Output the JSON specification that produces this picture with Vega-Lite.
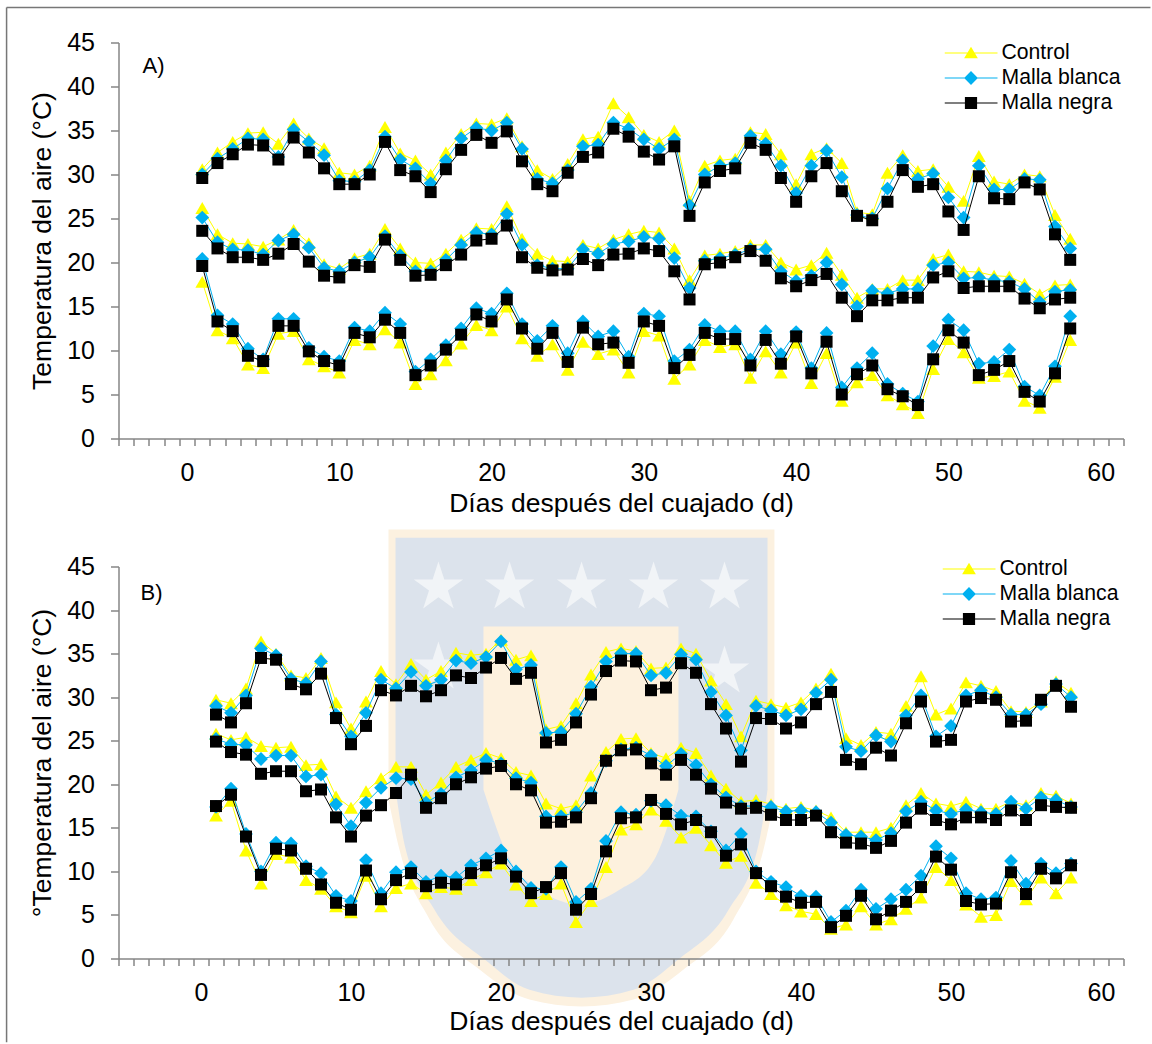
{"$schema":"https://vega.github.io/schema/vega-lite/v6.json","padding":{"left":5.5,"top":6.5,"right":0,"bottom":0},"background":"white","bounds":"flush","spacing":128,"resolve":{"scale":{"color":"independent","shape":"independent"},"legend":{"color":"independent","shape":"independent"}},"config":{"view":{"stroke":null},"font":"Liberation Sans","axis":{"grid":false,"domainColor":"#868686","tickColor":"#868686","domainWidth":1.5,"tickWidth":1.5,"labelColor":"black","titleColor":"black","labelFont":"Liberation Sans","titleFont":"Liberation Sans","labelFontSize":25,"titleFontSize":26.5,"titleFontWeight":"normal"},"legend":{"labelFont":"Liberation Sans","labelFontSize":21.2,"labelColor":"black"}},
"datasets":{
"A_control":[{"dia":1,"max":30.6,"med":26.2,"min":17.8},{"dia":2,"max":32.5,"med":23.2,"min":12.3},{"dia":3,"max":33.7,"med":22.2,"min":11.4},{"dia":4,"max":34.7,"med":22.1,"min":8.4},{"dia":5,"max":34.8,"med":21.8,"min":8},{"dia":6,"max":33.5,"med":22.6,"min":11.9},{"dia":7,"max":35.8,"med":23.7,"min":12.2},{"dia":8,"max":34.1,"med":22.2,"min":9},{"dia":9,"max":33,"med":19.8,"min":8.2},{"dia":10,"max":30.2,"med":19.3,"min":7.5},{"dia":11,"max":30,"med":20.5,"min":11.2},{"dia":12,"max":31,"med":21,"min":10.7},{"dia":13,"max":35.4,"med":23.8,"min":12.4},{"dia":14,"max":32.4,"med":21.6,"min":10.9},{"dia":15,"max":31.6,"med":20,"min":6.2},{"dia":16,"max":30,"med":19.9,"min":7.3},{"dia":17,"max":32.5,"med":21,"min":8.9},{"dia":18,"max":34.6,"med":22.6,"min":10.8},{"dia":19,"max":35.8,"med":23.9,"min":12.9},{"dia":20,"max":35.7,"med":23.8,"min":12.3},{"dia":21,"max":36.4,"med":26.4,"min":15},{"dia":22,"max":33.2,"med":22.7,"min":11.4},{"dia":23,"max":30.5,"med":21,"min":9.4},{"dia":24,"max":29.5,"med":20.2,"min":10.7},{"dia":25,"max":31.2,"med":20.1,"min":7.8},{"dia":26,"max":34,"med":22,"min":11},{"dia":27,"max":34.3,"med":21.6,"min":9.6},{"dia":28,"max":38.1,"med":22.6,"min":10.1},{"dia":29,"max":36.5,"med":23.2,"min":7.5},{"dia":30,"max":34.5,"med":23.6,"min":12.2},{"dia":31,"max":33.7,"med":23.4,"min":11.7},{"dia":32,"max":35,"med":21.6,"min":6.8},{"dia":33,"max":27,"med":18,"min":8.4},{"dia":34,"max":31,"med":20.8,"min":11.2},{"dia":35,"max":31.6,"med":21,"min":10.4},{"dia":36,"max":31.8,"med":21.3,"min":10.7},{"dia":37,"max":34.8,"med":22,"min":6.9},{"dia":38,"max":34.6,"med":22,"min":9.9},{"dia":39,"max":32.3,"med":20,"min":7.5},{"dia":40,"max":28.9,"med":19.2,"min":10.9},{"dia":41,"max":32.3,"med":19.7,"min":6.3},{"dia":42,"max":33,"med":21.1,"min":9.7},{"dia":43,"max":31.3,"med":18.6,"min":4.3},{"dia":44,"max":25.7,"med":16,"min":6.4},{"dia":45,"max":25.5,"med":17,"min":7.2},{"dia":46,"max":30.2,"med":17,"min":4.9},{"dia":47,"max":32.2,"med":18,"min":3.9},{"dia":48,"max":30.4,"med":18,"min":2.9},{"dia":49,"max":30.6,"med":20.4,"min":7.9},{"dia":50,"max":28.6,"med":20.9,"min":11.3},{"dia":51,"max":27,"med":19,"min":9.8},{"dia":52,"max":32.1,"med":18.9,"min":6.9},{"dia":53,"max":29.2,"med":18.5,"min":7.1},{"dia":54,"max":28.9,"med":18.4,"min":7.6},{"dia":55,"max":30,"med":17.6,"min":4.3},{"dia":56,"max":29.8,"med":16.4,"min":3.5},{"dia":57,"max":25.4,"med":17.4,"min":7},{"dia":58,"max":22.7,"med":17.5,"min":11.2}],
"A_blanca":[{"dia":1,"max":30,"med":25.1,"min":20.4},{"dia":2,"max":31.8,"med":22.3,"min":14},{"dia":3,"max":32.9,"med":21.5,"min":13},{"dia":4,"max":34.1,"med":21.4,"min":10.2},{"dia":5,"max":34,"med":20.9,"min":9},{"dia":6,"max":32,"med":22.5,"min":13.6},{"dia":7,"max":35.1,"med":23.2,"min":13.6},{"dia":8,"max":33.7,"med":21.7,"min":10.3},{"dia":9,"max":32.2,"med":19.4,"min":9.3},{"dia":10,"max":29.3,"med":19,"min":8.8},{"dia":11,"max":29.2,"med":20,"min":12.6},{"dia":12,"max":30.5,"med":20.6,"min":12.2},{"dia":13,"max":34.3,"med":23,"min":14.3},{"dia":14,"max":31.7,"med":20.8,"min":13},{"dia":15,"max":30.7,"med":19,"min":7.6},{"dia":16,"max":29,"med":19,"min":9},{"dia":17,"max":31.6,"med":20.3,"min":10.6},{"dia":18,"max":34.1,"med":22,"min":12.5},{"dia":19,"max":35.3,"med":23.4,"min":14.8},{"dia":20,"max":35,"med":23.2,"min":14.2},{"dia":21,"max":35.9,"med":25.5,"min":16.5},{"dia":22,"max":32.9,"med":22,"min":13},{"dia":23,"max":29.5,"med":19.7,"min":11.1},{"dia":24,"max":29,"med":19.3,"min":12.8},{"dia":25,"max":30.5,"med":19.3,"min":9.7},{"dia":26,"max":33.2,"med":21.5,"min":13.3},{"dia":27,"max":33.4,"med":21,"min":11.6},{"dia":28,"max":35.9,"med":22.1,"min":12.2},{"dia":29,"max":35.2,"med":22.4,"min":9.3},{"dia":30,"max":34,"med":22.9,"min":14.2},{"dia":31,"max":32.9,"med":22.7,"min":13.9},{"dia":32,"max":34,"med":20.5,"min":8.8},{"dia":33,"max":26.5,"med":17.1,"min":10.1},{"dia":34,"max":30,"med":20.2,"min":12.9},{"dia":35,"max":31,"med":20.5,"min":12.2},{"dia":36,"max":31.3,"med":20.9,"min":12.2},{"dia":37,"max":34.4,"med":21.5,"min":9},{"dia":38,"max":33.5,"med":21.5,"min":12.2},{"dia":39,"max":31,"med":19,"min":9.6},{"dia":40,"max":27.9,"med":17.9,"min":12.1},{"dia":41,"max":31,"med":18.5,"min":8},{"dia":42,"max":32.7,"med":20,"min":12},{"dia":43,"max":29.7,"med":17.5,"min":5.8},{"dia":44,"max":25.4,"med":15,"min":8},{"dia":45,"max":25,"med":16.8,"min":9.7},{"dia":46,"max":28.4,"med":16.5,"min":6.2},{"dia":47,"max":31.6,"med":17,"min":5.1},{"dia":48,"max":29.5,"med":17,"min":4.2},{"dia":49,"max":30.1,"med":19.7,"min":10.5},{"dia":50,"max":27.4,"med":20,"min":13.5},{"dia":51,"max":25.1,"med":18.2,"min":12.3},{"dia":52,"max":31,"med":18.3,"min":8.5},{"dia":53,"max":28.3,"med":18,"min":8.7},{"dia":54,"max":28.3,"med":17.8,"min":10.1},{"dia":55,"max":29.5,"med":17,"min":5.9},{"dia":56,"max":29.4,"med":15.5,"min":4.9},{"dia":57,"max":24.1,"med":16.7,"min":8.2},{"dia":58,"max":21.6,"med":16.9,"min":13.9}],
"A_negra":[{"dia":1,"max":29.6,"med":23.6,"min":19.6},{"dia":2,"max":31.3,"med":21.6,"min":13.3},{"dia":3,"max":32.3,"med":20.6,"min":12.2},{"dia":4,"max":33.4,"med":20.6,"min":9.4},{"dia":5,"max":33.3,"med":20.3,"min":8.8},{"dia":6,"max":31.7,"med":21,"min":12.8},{"dia":7,"max":34.2,"med":22.1,"min":12.8},{"dia":8,"max":32.5,"med":20.1,"min":9.9},{"dia":9,"max":30.7,"med":18.5,"min":8.8},{"dia":10,"max":28.9,"med":18.3,"min":8.3},{"dia":11,"max":28.9,"med":19.7,"min":12},{"dia":12,"max":30,"med":19.5,"min":11.5},{"dia":13,"max":33.7,"med":22.6,"min":13.5},{"dia":14,"max":30.5,"med":20.3,"min":12},{"dia":15,"max":29.8,"med":18.5,"min":7.2},{"dia":16,"max":28,"med":18.6,"min":8.3},{"dia":17,"max":30.6,"med":19.7,"min":10.1},{"dia":18,"max":32.8,"med":20.9,"min":11.8},{"dia":19,"max":34.5,"med":22.5,"min":14.1},{"dia":20,"max":33.6,"med":22.7,"min":13.3},{"dia":21,"max":34.9,"med":24.2,"min":15.8},{"dia":22,"max":31.5,"med":20.6,"min":12.5},{"dia":23,"max":28.9,"med":19.4,"min":10.2},{"dia":24,"max":28.1,"med":19.1,"min":12},{"dia":25,"max":30.2,"med":19.2,"min":8.7},{"dia":26,"max":32,"med":20.4,"min":12.6},{"dia":27,"max":32.5,"med":19.7,"min":10.7},{"dia":28,"max":35.2,"med":20.9,"min":10.9},{"dia":29,"max":34.3,"med":21,"min":8.6},{"dia":30,"max":32.6,"med":21.6,"min":13.3},{"dia":31,"max":31.7,"med":21.3,"min":12.8},{"dia":32,"max":33.2,"med":19,"min":8},{"dia":33,"max":25.3,"med":15.8,"min":9.5},{"dia":34,"max":29.1,"med":19.8,"min":12},{"dia":35,"max":30.4,"med":20,"min":11.3},{"dia":36,"max":30.7,"med":20.6,"min":11.3},{"dia":37,"max":33.6,"med":21.3,"min":8.3},{"dia":38,"max":32.8,"med":20.2,"min":11.2},{"dia":39,"max":29.6,"med":18.2,"min":8.5},{"dia":40,"max":26.9,"med":17.3,"min":11.6},{"dia":41,"max":29.8,"med":18,"min":7.4},{"dia":42,"max":31.3,"med":18.7,"min":11},{"dia":43,"max":28.1,"med":16,"min":5},{"dia":44,"max":25.3,"med":13.9,"min":7.3},{"dia":45,"max":24.8,"med":15.7,"min":8.3},{"dia":46,"max":26.9,"med":15.7,"min":5.6},{"dia":47,"max":30.5,"med":16,"min":4.8},{"dia":48,"max":28.6,"med":16,"min":3.8},{"dia":49,"max":28.9,"med":18.3,"min":9},{"dia":50,"max":25.8,"med":19,"min":12.3},{"dia":51,"max":23.7,"med":17.1,"min":10.9},{"dia":52,"max":29.8,"med":17.3,"min":7.2},{"dia":53,"max":27.3,"med":17.3,"min":7.8},{"dia":54,"max":27.2,"med":17.3,"min":8.8},{"dia":55,"max":29.1,"med":15.9,"min":5.3},{"dia":56,"max":28.3,"med":14.8,"min":4.2},{"dia":57,"max":23.2,"med":15.8,"min":7.4},{"dia":58,"max":20.3,"med":16,"min":12.5}],
"B_control":[{"dia":1,"max":29.7,"med":25.8,"min":16.4},{"dia":2,"max":29.3,"med":25.1,"min":18.1},{"dia":3,"max":31,"med":25.4,"min":12.4},{"dia":4,"max":36.4,"med":24.4,"min":8.6},{"dia":5,"max":35,"med":24.2,"min":12},{"dia":6,"max":32.5,"med":24.3,"min":11.6},{"dia":7,"max":32.2,"med":22.2,"min":9},{"dia":8,"max":34.5,"med":22.3,"min":8},{"dia":9,"max":29.4,"med":18.6,"min":6},{"dia":10,"max":26.4,"med":17.3,"min":5.3},{"dia":11,"max":29.5,"med":19.2,"min":9.5},{"dia":12,"max":33,"med":20.7,"min":6},{"dia":13,"max":31.5,"med":22,"min":8.1},{"dia":14,"max":33.8,"med":22,"min":8.6},{"dia":15,"max":32,"med":18.8,"min":7.5},{"dia":16,"max":33,"med":20.2,"min":8.2},{"dia":17,"max":35.1,"med":22,"min":8},{"dia":18,"max":34.8,"med":22.8,"min":9},{"dia":19,"max":35,"med":23.6,"min":9.9},{"dia":20,"max":36.6,"med":23,"min":10.9},{"dia":21,"max":34.3,"med":21.4,"min":8.5},{"dia":22,"max":34.8,"med":21,"min":6.6},{"dia":23,"max":26.3,"med":17.8,"min":7.4},{"dia":24,"max":26.7,"med":17.2,"min":8.6},{"dia":25,"max":29.3,"med":17.6,"min":4.2},{"dia":26,"max":32.6,"med":21,"min":6.6},{"dia":27,"max":35.2,"med":23.7,"min":10.5},{"dia":28,"max":35.6,"med":25.2,"min":14.8},{"dia":29,"max":35.3,"med":25.3,"min":15.4},{"dia":30,"max":33.3,"med":23.6,"min":17.1},{"dia":31,"max":33.4,"med":23,"min":15.8},{"dia":32,"max":35.6,"med":24.2,"min":13.9},{"dia":33,"max":35,"med":23.6,"min":15},{"dia":34,"max":31.9,"med":21,"min":13},{"dia":35,"max":29.2,"med":19.5,"min":11},{"dia":36,"max":25.5,"med":18,"min":11.8},{"dia":37,"max":29.6,"med":18.2,"min":8.7},{"dia":38,"max":29.2,"med":17.7,"min":7.4},{"dia":39,"max":28.8,"med":17.2,"min":6.1},{"dia":40,"max":29.4,"med":17.4,"min":5.4},{"dia":41,"max":31,"med":17,"min":5.1},{"dia":42,"max":32.7,"med":16.2,"min":3.4},{"dia":43,"max":25.3,"med":14.5,"min":3.9},{"dia":44,"max":24.5,"med":14.5,"min":6},{"dia":45,"max":26,"med":14.5,"min":3.9},{"dia":46,"max":25.8,"med":15,"min":4.5},{"dia":47,"max":29,"med":17.6,"min":5.7},{"dia":48,"max":32.4,"med":19,"min":7},{"dia":49,"max":28,"med":17.8,"min":10.5},{"dia":50,"max":28.7,"med":17.5,"min":9},{"dia":51,"max":31.7,"med":18,"min":6.2},{"dia":52,"max":31.3,"med":17.2,"min":4.8},{"dia":53,"max":30.7,"med":17.2,"min":5},{"dia":54,"max":28.4,"med":18,"min":8.9},{"dia":55,"max":28.3,"med":17.6,"min":6.8},{"dia":56,"max":29.5,"med":19,"min":9.3},{"dia":57,"max":31.8,"med":18.7,"min":7.5},{"dia":58,"max":30.5,"med":17.8,"min":9.3}],
"B_blanca":[{"dia":1,"max":29,"med":25.2,"min":17.4},{"dia":2,"max":28.2,"med":24.6,"min":19.5},{"dia":3,"max":30.2,"med":24.5,"min":14.3},{"dia":4,"max":35.6,"med":22.9,"min":10},{"dia":5,"max":34.8,"med":23.3,"min":13.3},{"dia":6,"max":32.1,"med":23.3,"min":13.2},{"dia":7,"max":31.6,"med":20.9,"min":10.6},{"dia":8,"max":34.1,"med":21.1,"min":9.8},{"dia":9,"max":28,"med":17.7,"min":7.2},{"dia":10,"max":25.5,"med":15.2,"min":6.6},{"dia":11,"max":28.2,"med":17.9,"min":11.3},{"dia":12,"max":32,"med":19.6,"min":7.5},{"dia":13,"max":31,"med":20.7,"min":9.9},{"dia":14,"max":32.9,"med":20.6,"min":10.5},{"dia":15,"max":31.3,"med":17.9,"min":8.8},{"dia":16,"max":32,"med":18.9,"min":9.5},{"dia":17,"max":34.2,"med":20.8,"min":9.3},{"dia":18,"max":33.9,"med":21.6,"min":10.7},{"dia":19,"max":34.6,"med":22.8,"min":11.5},{"dia":20,"max":36.4,"med":22.4,"min":12.4},{"dia":21,"max":33.2,"med":20.7,"min":10},{"dia":22,"max":33.7,"med":20.2,"min":8.1},{"dia":23,"max":25.9,"med":16.3,"min":8},{"dia":24,"max":26,"med":16.3,"min":10.5},{"dia":25,"max":28.1,"med":16.8,"min":6.5},{"dia":26,"max":31.2,"med":19,"min":8},{"dia":27,"max":34.1,"med":22.7,"min":13.5},{"dia":28,"max":35,"med":24,"min":16.8},{"dia":29,"max":35,"med":24.2,"min":16.5},{"dia":30,"max":32.5,"med":23.3,"min":18.1},{"dia":31,"max":32.8,"med":22.1,"min":17.6},{"dia":32,"max":34.9,"med":23.5,"min":16.4},{"dia":33,"max":34.3,"med":22.2,"min":16.3},{"dia":34,"max":30.6,"med":20,"min":14.6},{"dia":35,"max":27.9,"med":18.5,"min":12.4},{"dia":36,"max":23.9,"med":17.5,"min":14.3},{"dia":37,"max":29,"med":17.5,"min":10},{"dia":38,"max":28.5,"med":17.4,"min":8.8},{"dia":39,"max":27.9,"med":16.9,"min":8.2},{"dia":40,"max":28.6,"med":17,"min":7.2},{"dia":41,"max":30.5,"med":16.8,"min":7.1},{"dia":42,"max":32,"med":15.6,"min":4.2},{"dia":43,"max":24.3,"med":14.2,"min":5.5},{"dia":44,"max":23.8,"med":14,"min":7.9},{"dia":45,"max":25.6,"med":13.6,"min":5.7},{"dia":46,"max":24.9,"med":14.4,"min":6.8},{"dia":47,"max":27.9,"med":16.9,"min":7.9},{"dia":48,"max":30.2,"med":18,"min":9.5},{"dia":49,"max":25.5,"med":17,"min":12.9},{"dia":50,"max":26.7,"med":16.6,"min":11.5},{"dia":51,"max":30.2,"med":17.1,"min":7.5},{"dia":52,"max":30.8,"med":16.8,"min":6.8},{"dia":53,"max":30,"med":16.6,"min":7},{"dia":54,"max":28,"med":18,"min":11.2},{"dia":55,"max":28,"med":17.2,"min":8.6},{"dia":56,"max":29.2,"med":18.5,"min":10.9},{"dia":57,"max":31.5,"med":18.2,"min":9.8},{"dia":58,"max":30,"med":17.4,"min":10.9}],
"B_negra":[{"dia":1,"max":28,"med":24.9,"min":17.5},{"dia":2,"max":27.1,"med":23.7,"min":18.8},{"dia":3,"max":29.3,"med":23.4,"min":14},{"dia":4,"max":34.5,"med":21.2,"min":9.6},{"dia":5,"max":34.3,"med":21.5,"min":12.6},{"dia":6,"max":31.5,"med":21.5,"min":12.4},{"dia":7,"max":30.9,"med":19.2,"min":10.3},{"dia":8,"max":32.7,"med":19.4,"min":8.5},{"dia":9,"max":27.6,"med":16.2,"min":6.4},{"dia":10,"max":24.6,"med":14,"min":5.6},{"dia":11,"max":26.7,"med":16.4,"min":10.1},{"dia":12,"max":30.8,"med":17.6,"min":6.8},{"dia":13,"max":30.2,"med":19,"min":9},{"dia":14,"max":31.3,"med":21.1,"min":9.8},{"dia":15,"max":30.1,"med":17.3,"min":8.3},{"dia":16,"max":30.8,"med":18.4,"min":8.7},{"dia":17,"max":32.5,"med":20,"min":8.5},{"dia":18,"max":32.2,"med":20.8,"min":9.8},{"dia":19,"max":33.4,"med":21.8,"min":10.7},{"dia":20,"max":34.5,"med":22.1,"min":11.5},{"dia":21,"max":32.1,"med":20,"min":9.4},{"dia":22,"max":32.8,"med":19.3,"min":7.5},{"dia":23,"max":24.8,"med":15.6,"min":8.2},{"dia":24,"max":25.1,"med":15.7,"min":9.8},{"dia":25,"max":27.1,"med":16.2,"min":5.6},{"dia":26,"max":30.3,"med":18.4,"min":7.4},{"dia":27,"max":33,"med":22.7,"min":12.3},{"dia":28,"max":34.2,"med":23.9,"min":16.1},{"dia":29,"max":34.1,"med":24,"min":16.2},{"dia":30,"max":30.8,"med":22.4,"min":18.2},{"dia":31,"max":31.1,"med":21.1,"min":16.6},{"dia":32,"max":33.9,"med":22.8,"min":15.4},{"dia":33,"max":32.8,"med":21.1,"min":15.9},{"dia":34,"max":29.2,"med":19.5,"min":14.5},{"dia":35,"max":26.4,"med":17.9,"min":11.8},{"dia":36,"max":22.6,"med":17.2,"min":13.1},{"dia":37,"max":27.6,"med":17.3,"min":9.8},{"dia":38,"max":27.5,"med":16.5,"min":8.3},{"dia":39,"max":26.4,"med":15.9,"min":7.1},{"dia":40,"max":27.1,"med":15.9,"min":6.4},{"dia":41,"max":29.2,"med":16.4,"min":6.5},{"dia":42,"max":30.6,"med":14.5,"min":3.6},{"dia":43,"max":22.8,"med":13.3,"min":4.9},{"dia":44,"max":22.3,"med":13.2,"min":7.2},{"dia":45,"max":24.2,"med":12.7,"min":4.5},{"dia":46,"max":23.3,"med":13.5,"min":5.5},{"dia":47,"max":27,"med":15.6,"min":6.5},{"dia":48,"max":29.5,"med":17.2,"min":8.2},{"dia":49,"max":24.9,"med":15.9,"min":11.7},{"dia":50,"max":25.1,"med":15.4,"min":10.2},{"dia":51,"max":29.5,"med":16.2,"min":6.6},{"dia":52,"max":29.9,"med":16.2,"min":6.2},{"dia":53,"max":29.7,"med":15.9,"min":6.3},{"dia":54,"max":27.2,"med":17,"min":9.9},{"dia":55,"max":27.3,"med":15.9,"min":7.4},{"dia":56,"max":29.7,"med":17.6,"min":10.3},{"dia":57,"max":31.3,"med":17.4,"min":9.2},{"dia":58,"max":28.9,"med":17.3,"min":10.7}],
"leyenda":[{"trat":"Control"},{"trat":"Malla blanca"},{"trat":"Malla negra"}]
},
"vconcat":[
{"width":1005,"height":396,
"encoding":{"x":{"field":"dia","type":"quantitative","title":"Días después del cuajado (d)","scale":{"domain":[-4.5,61.5],"nice":false,"zero":false},"axis":{"zindex":1,"values":[-4.5,-3.5,-2.5,-1.5,-0.5,0,0.5,1.5,2.5,3.5,4.5,5.5,6.5,7.5,8.5,9.5,10,10.5,11.5,12.5,13.5,14.5,15.5,16.5,17.5,18.5,19.5,20,20.5,21.5,22.5,23.5,24.5,25.5,26.5,27.5,28.5,29.5,30,30.5,31.5,32.5,33.5,34.5,35.5,36.5,37.5,38.5,39.5,40,40.5,41.5,42.5,43.5,44.5,45.5,46.5,47.5,48.5,49.5,50,50.5,51.5,52.5,53.5,54.5,55.5,56.5,57.5,58.5,59.5,60,60.5,61.5],"labelExpr":"datum.value % 10 == 0 ? datum.label : ''","labelOverlap":false,"labelFlush":false,"tickSize":7,"labelPadding":15,"titlePadding":5,"tickOpacity":{"condition":{"test":"datum.value % 1 == 0","value":0},"value":1}}},"y":{"field":"temp","type":"quantitative","title":"Temperatura del aire (°C)","scale":{"domain":[0,45],"nice":false},"axis":{"zindex":1,"values":[0,5,10,15,20,25,30,35,40,45],"tickSize":8,"labelPadding":16,"titlePadding":10}}},
"layer":[
{"data":{"values":[{"dia":-11.85,"temp":48.98,"temp2":-68.6}]},"mark":{"type":"rule","color":"#777777","strokeWidth":1.5},"encoding":{"y2":{"field":"temp2"}}},
{"data":{"values":[{"dia":-11.85,"dia2":63.27,"temp":48.98}]},"mark":{"type":"rule","color":"#777777","strokeWidth":1.5},"encoding":{"x2":{"field":"dia2"}}},
{"data":{"name":"A_control"},"transform":[{"fold":["max","med","min"],"as":["nivel","temp"]}],"layer":[{"mark":{"type":"line","color":"#FFFF00","strokeWidth":1},"encoding":{"detail":{"field":"nivel"}}},{"mark":{"type":"point","shape":"triangle-up","filled":true,"color":"#FFFF00","size":190,"opacity":1}}]},
{"data":{"name":"A_blanca"},"transform":[{"fold":["max","med","min"],"as":["nivel","temp"]}],"layer":[{"mark":{"type":"line","color":"#00B0F0","strokeWidth":1},"encoding":{"detail":{"field":"nivel"}}},{"mark":{"type":"point","shape":"diamond","filled":true,"color":"#00B0F0","size":190,"opacity":1}}]},
{"data":{"name":"A_negra"},"transform":[{"fold":["max","med","min"],"as":["nivel","temp"]}],"layer":[{"mark":{"type":"line","color":"#000000","strokeWidth":1},"encoding":{"detail":{"field":"nivel"}}},{"mark":{"type":"point","shape":"square","filled":true,"color":"#000000","size":144,"opacity":1}}]},
{"data":{"values":[{"dia":-2.2,"temp":42.3,"etiqueta":"A)"}]},"mark":{"type":"text","fontSize":22,"font":"Liberation Sans","color":"black"},"encoding":{"text":{"field":"etiqueta"}}},
{"data":{"name":"leyenda"},"mark":{"type":"point","filled":true,"opacity":0},"encoding":{"color":{"field":"trat","type":"nominal","scale":{"domain":["Control","Malla blanca","Malla negra"],"range":["#FFFF00","#00B0F0","#000000"]},"legend":{"title":null,"orient":"none","legendX":826,"legendY":-2,"padding":0,"symbolSize":2809,"clipHeight":25,"rowPadding":0,"labelOffset":4,"symbolOpacity":1,"symbolStrokeWidth":0}},"shape":{"field":"trat","type":"nominal","scale":{"domain":["Control","Malla blanca","Malla negra"],"range":["M-1,-0.02H1V0.02H-1Z M0,-0.24L0.26,0.2H-0.26Z","M-1,-0.02H1V0.02H-1Z M0,-0.26L0.26,0L0,0.26L-0.26,0Z","M-1,-0.02H1V0.02H-1Z M-0.23,-0.23H0.23V0.23H-0.23Z"]},"legend":{"title":null,"orient":"none","legendX":826,"legendY":-2,"padding":0,"symbolSize":2809,"clipHeight":25,"rowPadding":0,"labelOffset":4,"symbolOpacity":1,"symbolStrokeWidth":0}}}}
]},
{"width":1005,"height":392,
"encoding":{"x":{"field":"dia","type":"quantitative","title":"Días después del cuajado (d)","scale":{"domain":[-5.5,61.5],"nice":false,"zero":false},"axis":{"zindex":1,"values":[-5.5,-4.5,-3.5,-2.5,-1.5,-0.5,0,0.5,1.5,2.5,3.5,4.5,5.5,6.5,7.5,8.5,9.5,10,10.5,11.5,12.5,13.5,14.5,15.5,16.5,17.5,18.5,19.5,20,20.5,21.5,22.5,23.5,24.5,25.5,26.5,27.5,28.5,29.5,30,30.5,31.5,32.5,33.5,34.5,35.5,36.5,37.5,38.5,39.5,40,40.5,41.5,42.5,43.5,44.5,45.5,46.5,47.5,48.5,49.5,50,50.5,51.5,52.5,53.5,54.5,55.5,56.5,57.5,58.5,59.5,60,60.5,61.5],"labelExpr":"datum.value % 10 == 0 ? datum.label : ''","labelOverlap":false,"labelFlush":false,"tickSize":7,"labelPadding":15,"titlePadding":3,"tickOpacity":{"condition":{"test":"datum.value % 1 == 0","value":0},"value":1}}},"y":{"field":"temp","type":"quantitative","title":"°Temperatura del aire (°C)","scale":{"domain":[0,45],"nice":false},"axis":{"zindex":1,"values":[0,5,10,15,20,25,30,35,40,45],"tickSize":8,"labelPadding":16,"titlePadding":10}}},
"layer":[
{"data":{"values":[{"dia":12.5,"temp":49.25,"temp2":18.25},{"dia":13.23,"temp":49.25,"temp2":12.5},{"dia":15.23,"temp":49.25,"temp2":4.5},{"dia":18.57,"temp":49.25,"temp2":-1.26},{"dia":21.9,"temp":49.25,"temp2":-4.7},{"dia":25.37,"temp":49.25,"temp2":-5.5},{"dia":28.83,"temp":49.25,"temp2":-4.7},{"dia":32.17,"temp":49.25,"temp2":-1.26},{"dia":35.5,"temp":49.25,"temp2":4.5},{"dia":37.5,"temp":49.25,"temp2":12.5},{"dia":38.23,"temp":49.25,"temp2":18.25}]},"mark":{"type":"area","color":"#FCF1E0","opacity":1,"interpolate":"monotone"},"encoding":{"y2":{"field":"temp2"}}},
{"data":{"values":[{"dia":12.97,"temp":48.3,"temp2":19.4},{"dia":13.57,"temp":48.3,"temp2":13.1},{"dia":15.57,"temp":48.3,"temp2":5.6},{"dia":18.9,"temp":48.3,"temp2":-0.1},{"dia":21.9,"temp":48.3,"temp2":-3.6},{"dia":25.37,"temp":48.3,"temp2":-4.5},{"dia":28.83,"temp":48.3,"temp2":-3.6},{"dia":31.83,"temp":48.3,"temp2":-0.1},{"dia":35.17,"temp":48.3,"temp2":5.6},{"dia":37.17,"temp":48.3,"temp2":13.1},{"dia":37.77,"temp":48.3,"temp2":19.4}]},"mark":{"type":"area","color":"#DCE3EC","opacity":1,"interpolate":"monotone"},"encoding":{"y2":{"field":"temp2"}}},
{"data":{"values":[{"dia":18.83,"temp":38.1,"temp2":19.4},{"dia":20.57,"temp":38.1,"temp2":11.4},{"dia":22.57,"temp":38.1,"temp2":7.9},{"dia":25.3,"temp":38.1,"temp2":6.2},{"dia":27.9,"temp":38.1,"temp2":7.9},{"dia":30.23,"temp":38.1,"temp2":11.4},{"dia":31.83,"temp":38.1,"temp2":19.4}]},"mark":{"type":"area","color":"#FDF1DE","opacity":1,"interpolate":"monotone"},"encoding":{"y2":{"field":"temp2"}}},
{"data":{"values":[{"dia":15.83,"temp":42.6},{"dia":20.57,"temp":42.6},{"dia":25.37,"temp":42.6},{"dia":30.17,"temp":42.6},{"dia":34.9,"temp":42.6},{"dia":15.83,"temp":33.4},{"dia":34.9,"temp":32.95}]},"mark":{"type":"point","filled":true,"color":"#F1F4F7","opacity":1,"size":2700,"shape":"M0,-1L0.225,-0.309L0.951,-0.309L0.363,0.118L0.588,0.809L0,0.382L-0.588,0.809L-0.363,0.118L-0.951,-0.309L-0.225,-0.309Z"}},
{"data":{"name":"B_control"},"transform":[{"fold":["max","med","min"],"as":["nivel","temp"]}],"layer":[{"mark":{"type":"line","color":"#FFFF00","strokeWidth":1},"encoding":{"detail":{"field":"nivel"}}},{"mark":{"type":"point","shape":"triangle-up","filled":true,"color":"#FFFF00","size":190,"opacity":1}}]},
{"data":{"name":"B_blanca"},"transform":[{"fold":["max","med","min"],"as":["nivel","temp"]}],"layer":[{"mark":{"type":"line","color":"#00B0F0","strokeWidth":1},"encoding":{"detail":{"field":"nivel"}}},{"mark":{"type":"point","shape":"diamond","filled":true,"color":"#00B0F0","size":190,"opacity":1}}]},
{"data":{"name":"B_negra"},"transform":[{"fold":["max","med","min"],"as":["nivel","temp"]}],"layer":[{"mark":{"type":"line","color":"#000000","strokeWidth":1},"encoding":{"detail":{"field":"nivel"}}},{"mark":{"type":"point","shape":"square","filled":true,"color":"#000000","size":144,"opacity":1}}]},
{"data":{"values":[{"dia":-3.3,"temp":42,"etiqueta":"B)"}]},"mark":{"type":"text","fontSize":22,"font":"Liberation Sans","color":"black"},"encoding":{"text":{"field":"etiqueta"}}},
{"data":{"name":"leyenda"},"mark":{"type":"point","filled":true,"opacity":0},"encoding":{"color":{"field":"trat","type":"nominal","scale":{"domain":["Control","Malla blanca","Malla negra"],"range":["#FFFF00","#00B0F0","#000000"]},"legend":{"title":null,"orient":"none","legendX":824,"legendY":-10,"padding":0,"symbolSize":2809,"clipHeight":25,"rowPadding":0,"labelOffset":4,"symbolOpacity":1,"symbolStrokeWidth":0}},"shape":{"field":"trat","type":"nominal","scale":{"domain":["Control","Malla blanca","Malla negra"],"range":["M-1,-0.02H1V0.02H-1Z M0,-0.24L0.26,0.2H-0.26Z","M-1,-0.02H1V0.02H-1Z M0,-0.26L0.26,0L0,0.26L-0.26,0Z","M-1,-0.02H1V0.02H-1Z M-0.23,-0.23H0.23V0.23H-0.23Z"]},"legend":{"title":null,"orient":"none","legendX":824,"legendY":-10,"padding":0,"symbolSize":2809,"clipHeight":25,"rowPadding":0,"labelOffset":4,"symbolOpacity":1,"symbolStrokeWidth":0}}}}
]}
]}
